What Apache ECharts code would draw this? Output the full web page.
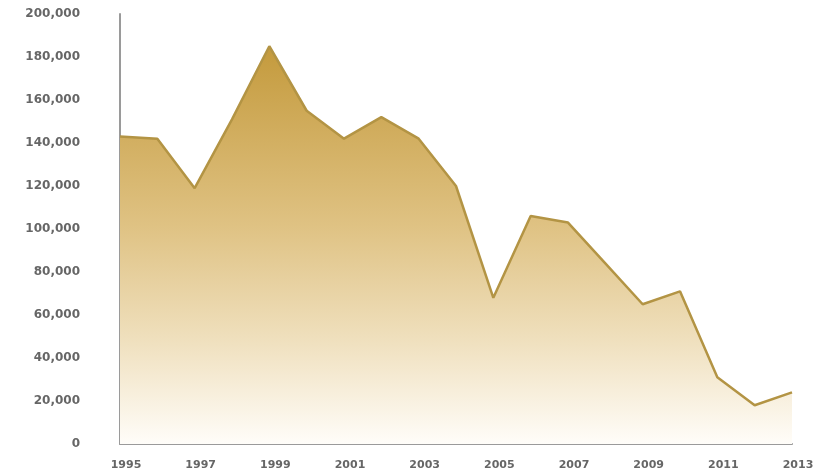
<!DOCTYPE html>
<html><head><meta charset="utf-8">
<script src="https://cdn.jsdelivr.net/npm/echarts@6/dist/echarts.min.js"></script>
<style>html,body{margin:0;padding:0;background:#fff}#c{width:836px;height:476px}</style>
</head><body><div id="c"></div>
<script>
const years = ['1995','1996','1997','1998','1999','2000','2001','2002','2003','2004','2005','2006','2007','2008','2009','2010','2011','2012','2013'];
const values = [143000,142000,119000,151000,185000,155000,142000,152000,142000,120000,68000,106000,103000,84000,65000,71000,31000,18000,24000];
const yTicks = {min:0, max:200000, interval:20000};

const chart = echarts.init(document.getElementById('c'));
chart.setOption({
  animation:false,
  grid:{left:120,right:44,top:14,bottom:32},
  xAxis:{
    type:'category', data:years, boundaryGap:false,
    axisLine:{lineStyle:{color:'#9a9a9a',width:2}},
    axisTick:{show:false},
    axisLabel:{interval:1,color:'#666',fontSize:11,fontWeight:'bold',fontFamily:'DejaVu Sans',margin:16,padding:[0,0,0,12]}
  },
  yAxis:{
    type:'value', min:yTicks.min, max:yTicks.max, interval:yTicks.interval,
    axisLine:{show:true,lineStyle:{color:'#9a9a9a',width:2}},
    axisTick:{show:false},
    splitLine:{show:false},
    axisLabel:{color:'#666',fontSize:12,fontWeight:'bold',fontFamily:'DejaVu Sans',margin:40,
      formatter:v=>v.toLocaleString('en-US')}
  },
  series:[{
    type:'line', data:values, symbol:'none',
    lineStyle:{color:'#b39444',width:2.5},
    areaStyle:{opacity:1,color:new echarts.graphic.LinearGradient(0,0,0,1,[
      {offset:0,color:'#c49a3c'},
      {offset:0.45,color:'#dfc283'},
      {offset:0.75,color:'#f0e1c0'},
      {offset:1,color:'#fffdf9'}
    ]),origin:'start'}
  }]
});
</script></body></html>
